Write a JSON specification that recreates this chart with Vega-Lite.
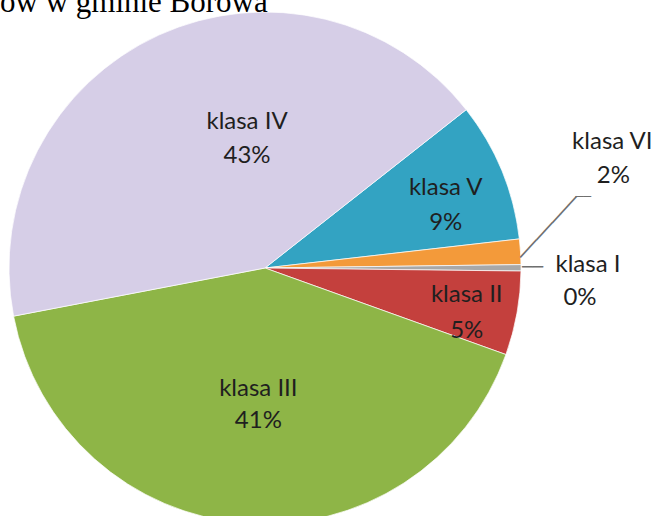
{
  "$schema": "https://vega.github.io/schema/vega-lite/v6.json",
  "autosize": "none",
  "width": 530,
  "height": 496,
  "padding": {"left": 0, "top": 20, "right": 128, "bottom": 0},
  "background": "#ffffff",
  "config": {"view": {"stroke": null}},
  "data": {"values": [
    {"klasa": "klasa V", "share": 8.8, "pct": "9%", "ord": 1},
    {"klasa": "klasa VI", "share": 1.6, "pct": "2%", "ord": 2},
    {"klasa": "klasa I", "share": 0.4, "pct": "0%", "ord": 3},
    {"klasa": "klasa II", "share": 5.3, "pct": "5%", "ord": 4},
    {"klasa": "klasa III", "share": 41.5, "pct": "41%", "ord": 5},
    {"klasa": "klasa IV", "share": 42.4, "pct": "43%", "ord": 6}
  ]},
  "layer": [
    {
      "encoding": {
        "theta": {"field": "share", "type": "quantitative", "stack": true, "scale": {"range": [0.9041, 7.1873]}},
        "order": {"field": "ord", "type": "quantitative", "sort": "ascending"}
      },
      "layer": [
        {"mark": {"type": "arc", "outerRadius": 256, "stroke": "#ffffff", "strokeWidth": 1, "strokeOpacity": 0.7},
         "encoding": {"color": {"field": "klasa", "type": "nominal", "legend": null,
           "scale": {"domain": ["klasa V", "klasa VI", "klasa I", "klasa II", "klasa III", "klasa IV"],
                     "range": ["#33A3C2", "#F39A3A", "#A8A8A8", "#C4403D", "#8EB547", "#D6CEE7"]}}}},
        {"mark": {"type": "text", "radius": 130, "dx": 36, "dy": -28, "font": "Lato", "fontSize": 24, "color": "#1f1f1f", "align": "center", "baseline": "middle"},
         "encoding": {"text": {"condition": {"test": "datum.klasa === 'klasa IV'", "field": "klasa", "type": "nominal"}, "value": ""}}},
        {"mark": {"type": "text", "radius": 130, "dx": 36, "dy": 6, "font": "Lato", "fontSize": 24, "color": "#1f1f1f", "align": "center", "baseline": "middle"},
         "encoding": {"text": {"condition": {"test": "datum.klasa === 'klasa IV'", "field": "pct", "type": "nominal"}, "value": ""}}},
        {"mark": {"type": "text", "radius": 190, "dx": 5, "dy": -8, "font": "Lato", "fontSize": 24, "color": "#1f1f1f", "align": "center", "baseline": "middle"},
         "encoding": {"text": {"condition": {"test": "datum.klasa === 'klasa V'", "field": "klasa", "type": "nominal"}, "value": ""}}},
        {"mark": {"type": "text", "radius": 190, "dx": 5, "dy": 27, "font": "Lato", "fontSize": 24, "color": "#1f1f1f", "align": "center", "baseline": "middle"},
         "encoding": {"text": {"condition": {"test": "datum.klasa === 'klasa V'", "field": "pct", "type": "nominal"}, "value": ""}}},
        {"mark": {"type": "text", "radius": 137, "dx": 4, "dy": -16, "font": "Lato", "fontSize": 24, "color": "#1f1f1f", "align": "center", "baseline": "middle"},
         "encoding": {"text": {"condition": {"test": "datum.klasa === 'klasa III'", "field": "klasa", "type": "nominal"}, "value": ""}}},
        {"mark": {"type": "text", "radius": 137, "dx": 4, "dy": 16, "font": "Lato", "fontSize": 24, "color": "#1f1f1f", "align": "center", "baseline": "middle"},
         "encoding": {"text": {"condition": {"test": "datum.klasa === 'klasa III'", "field": "pct", "type": "nominal"}, "value": ""}}},
        {"mark": {"type": "text", "radius": 205, "dx": 0, "dy": -9, "font": "Lato", "fontSize": 24, "color": "#1f1f1f", "align": "center", "baseline": "middle"},
         "encoding": {"text": {"condition": {"test": "datum.klasa === 'klasa II'", "field": "klasa", "type": "nominal"}, "value": ""}}},
        {"mark": {"type": "text", "radius": 205, "dx": 0, "dy": 27, "font": "Lato", "fontSize": 24, "color": "#1f1f1f", "align": "center", "baseline": "middle"},
         "encoding": {"text": {"condition": {"test": "datum.klasa === 'klasa II'", "field": "pct", "type": "nominal"}, "value": ""}}},
        {"mark": {"type": "text", "radius": 350, "dx": -2, "dy": -104, "font": "Lato", "fontSize": 24, "color": "#1f1f1f", "align": "center", "baseline": "middle"},
         "encoding": {"text": {"condition": {"test": "datum.klasa === 'klasa VI'", "field": "klasa", "type": "nominal"}, "value": ""}}},
        {"mark": {"type": "text", "radius": 350, "dx": -1, "dy": -70, "font": "Lato", "fontSize": 24, "color": "#1f1f1f", "align": "center", "baseline": "middle"},
         "encoding": {"text": {"condition": {"test": "datum.klasa === 'klasa VI'", "field": "pct", "type": "nominal"}, "value": ""}}},
        {"mark": {"type": "text", "radius": 320, "dx": 3, "dy": -3, "font": "Lato", "fontSize": 24, "color": "#1f1f1f", "align": "center", "baseline": "middle"},
         "encoding": {"text": {"condition": {"test": "datum.klasa === 'klasa I'", "field": "klasa", "type": "nominal"}, "value": ""}}},
        {"mark": {"type": "text", "radius": 320, "dx": -5, "dy": 30, "font": "Lato", "fontSize": 24, "color": "#1f1f1f", "align": "center", "baseline": "middle"},
         "encoding": {"text": {"condition": {"test": "datum.klasa === 'klasa I'", "field": "pct", "type": "nominal"}, "value": ""}}},
        {"mark": {"type": "text", "radius": 267.5, "font": "DejaVu Sans", "fontSize": 17.5, "color": "#6f6f6f", "align": "center", "baseline": "middle"},
         "encoding": {"text": {"condition": {"test": "datum.klasa === 'klasa I'", "value": "──"}, "value": ""}}},
        {"mark": {"type": "text", "radius": 287, "angle": 312.6, "dx": 14.8, "dy": -16.9, "font": "DejaVu Sans", "fontSize": 19.7, "color": "#6f6f6f", "align": "center", "baseline": "middle"},
         "encoding": {"text": {"condition": {"test": "datum.klasa === 'klasa VI'", "value": "───────"}, "value": ""}}},
        {"mark": {"type": "text", "radius": 319, "dy": -50.7, "font": "DejaVu Sans", "fontSize": 13, "color": "#6f6f6f", "align": "center", "baseline": "middle"},
         "encoding": {"text": {"condition": {"test": "datum.klasa === 'klasa VI'", "value": "──"}, "value": ""}}}
      ]
    },
    {
      "data": {"values": [{"caption": "ów w gminie Borowa"}]},
      "mark": {"type": "text", "font": "Liberation Serif", "fontSize": 31, "color": "#000000", "align": "left", "baseline": "alphabetic"},
      "encoding": {
        "text": {"field": "caption", "type": "nominal"},
        "x": {"value": 0},
        "y": {"value": -8}
      }
    }
  ]
}
